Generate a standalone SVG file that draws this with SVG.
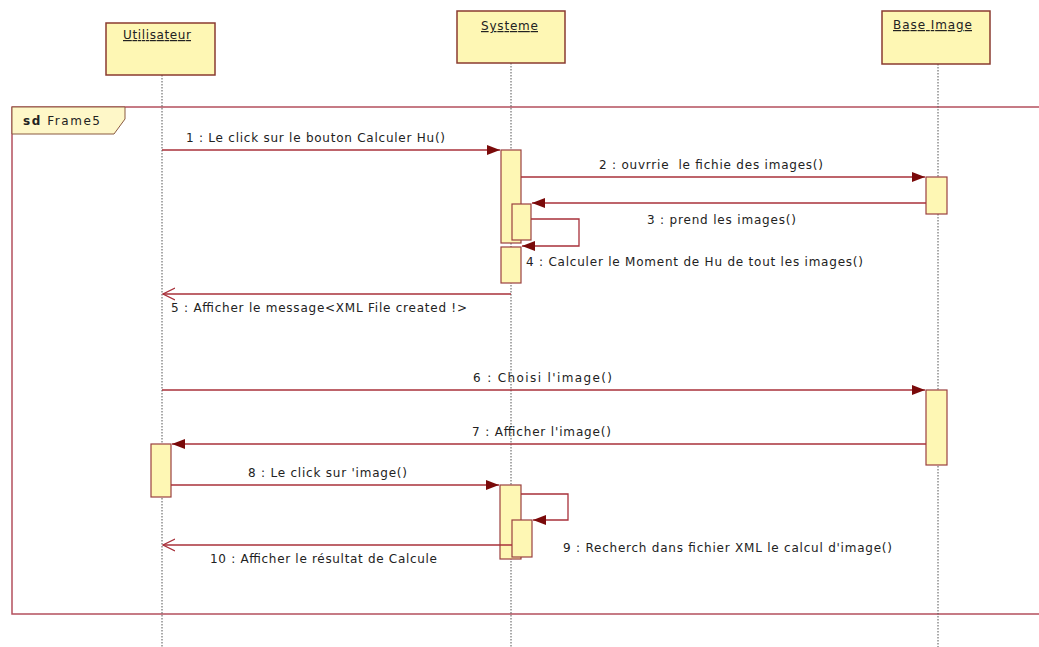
<svg xmlns="http://www.w3.org/2000/svg" width="1039" height="647" viewBox="0 0 1039 647">
<defs>
<style>
.head{fill:#fef7b4;stroke:#8a3b30;stroke-width:1.5}
.act{fill:#fef7b4;stroke:#9a4040;stroke-width:1.2}
.life{stroke:#555;stroke-width:1;stroke-dasharray:1.5,1.5;fill:none}
.msg{stroke:#a8303a;stroke-width:1.3;fill:none}
.frame{stroke:#b4505e;stroke-width:1.5;fill:none}
.t{font-family:"DejaVu Sans",Verdana,sans-serif;font-size:12px;fill:#222}
.h{font-family:"DejaVu Sans",Verdana,sans-serif;font-size:12px;fill:#222;text-decoration:underline}
</style>
<marker id="fill" markerUnits="userSpaceOnUse" markerWidth="13" markerHeight="10" refX="13" refY="5" orient="auto">
<path d="M0,0 L13,5 L0,10 z" fill="#7a0a0a"/>
</marker>
<marker id="open" markerUnits="userSpaceOnUse" markerWidth="13" markerHeight="14" refX="12" refY="7" orient="auto">
<path d="M0,1 L12,7 L0,13" fill="none" stroke="#a8303a" stroke-width="1.2"/>
</marker>
</defs>
<rect width="1039" height="647" fill="#fff"/>

<g id="frame">
<path class="frame" d="M1039,107 H12 V614 H1039"/>
<path d="M12,107 H125 V119 L114,134 H12 z" fill="#fef7c8" stroke="#8a5a40" stroke-width="1"/>
<text class="t" x="23" y="125" textLength="77" lengthAdjust="spacing"><tspan font-weight="bold">sd</tspan> Frame5</text>
</g>

<g id="lifelines">
<line class="life" x1="162" y1="75" x2="162" y2="647"/>
<line class="life" x1="511" y1="63" x2="511" y2="647"/>
<line class="life" x1="938" y1="64" x2="938" y2="647"/>
</g>

<g id="utilisateur">
<rect class="head" x="106" y="23" width="109" height="52"/>
<text class="h" x="123" y="39" textLength="68" lengthAdjust="spacing">Utilisateur</text>
<rect class="act" x="151" y="444" width="20" height="53"/>
</g>

<g id="systeme">
<rect class="head" x="457" y="11" width="108" height="52"/>
<text class="h" x="481" y="30" textLength="57" lengthAdjust="spacing">Systeme</text>
<rect class="act" x="501" y="150" width="20" height="93"/>
<rect class="act" x="501" y="247" width="20" height="36"/>
<rect class="act" x="512" y="204" width="19" height="36"/>
<rect class="act" x="500" y="485" width="21" height="74"/>
<rect class="act" x="512" y="520" width="20" height="37"/>
</g>

<g id="base-image">
<rect class="head" x="882" y="11" width="108" height="53"/>
<text class="h" x="893" y="29" textLength="79" lengthAdjust="spacing">Base Image</text>
<rect class="act" x="926" y="177" width="21" height="37"/>
<rect class="act" x="926" y="390" width="21" height="75"/>
</g>

<g id="connectors">
<line class="msg" x1="162" y1="150" x2="500" y2="150" marker-end="url(#fill)"/>
<line class="msg" x1="521" y1="177" x2="925" y2="177" marker-end="url(#fill)"/>
<line class="msg" x1="926" y1="203" x2="532" y2="203" marker-end="url(#fill)"/>
<path class="msg" d="M531,219 H579 V246 H522" marker-end="url(#fill)"/>
<line class="msg" x1="511" y1="294" x2="163" y2="294" marker-end="url(#open)"/>
<line class="msg" x1="162" y1="390" x2="925" y2="390" marker-end="url(#fill)"/>
<line class="msg" x1="926" y1="444" x2="172" y2="444" marker-end="url(#fill)"/>
<line class="msg" x1="171" y1="485" x2="499" y2="485" marker-end="url(#fill)"/>
<path class="msg" d="M521,494 H568 V520 H533" marker-end="url(#fill)"/>
<line class="msg" x1="512" y1="545" x2="163" y2="545" marker-end="url(#open)"/>
</g>

<g id="labels">
<text class="t" x="186" y="142" textLength="259" lengthAdjust="spacing">1 : Le click sur le bouton Calculer Hu()</text>
<text class="t" x="599" y="169" textLength="224" lengthAdjust="spacing">2 : ouvrrie &#160;le fichie des images()</text>
<text class="t" x="647" y="224" textLength="149" lengthAdjust="spacing">3 : prend les images()</text>
<text class="t" x="526" y="266" textLength="337" lengthAdjust="spacing">4 : Calculer le Moment de Hu de tout les images()</text>
<text class="t" x="171" y="312" textLength="296" lengthAdjust="spacing">5 : Afficher le message&lt;XML File created !&gt;</text>
<text class="t" x="473" y="382" textLength="139" lengthAdjust="spacing">6 : Choisi l'image()</text>
<text class="t" x="472" y="436" textLength="139" lengthAdjust="spacing">7 : Afficher l'image()</text>
<text class="t" x="248" y="477" textLength="159" lengthAdjust="spacing">8 : Le click sur 'image()</text>
<text class="t" x="563" y="552" textLength="329" lengthAdjust="spacing">9 : Recherch dans fichier XML le calcul d'image()</text>
<text class="t" x="210" y="563" textLength="227" lengthAdjust="spacing">10 : Afficher le résultat de Calcule</text>
</g>
</svg>
